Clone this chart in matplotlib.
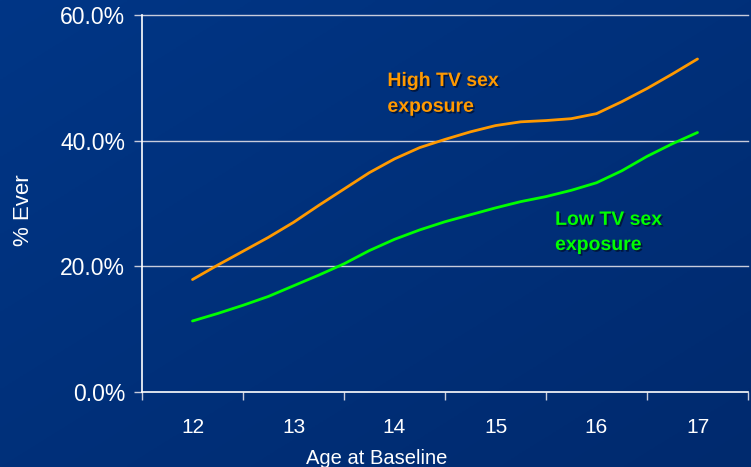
import numpy as np
import matplotlib
matplotlib.use("Agg")
import matplotlib.pyplot as plt
import matplotlib.patheffects as pe
from matplotlib.ticker import FixedLocator, FuncFormatter

plt.rcParams['font.family'] = ['Liberation Sans', 'DejaVu Sans']

# ages every quarter year
ages = [12.0, 12.25, 12.5, 12.75, 13.0, 13.25, 13.5, 13.75, 14.0, 14.25, 14.5,
        14.75, 15.0, 15.25, 15.5, 15.75, 16.0, 16.25, 16.5, 16.75, 17.0]
high_tv = [17.9, 20.2, 22.4, 24.6, 27.0, 29.7, 32.3, 34.9, 37.1, 38.9, 40.2,
           41.4, 42.4, 43.0, 43.2, 43.5, 44.3, 46.2, 48.3, 50.6, 53.0]
low_tv = [11.3, 12.5, 13.8, 15.2, 16.9, 18.6, 20.4, 22.5, 24.3, 25.8, 27.1,
          28.2, 29.3, 30.3, 31.1, 32.1, 33.3, 35.2, 37.5, 39.5, 41.3]
age_labels = [12, 13, 14, 15, 16, 17]
y_ticks = [0, 20, 40, 60]

orange = '#FF9900'
green = '#00FF00'
grid_col = '#C8CCDC'

fig = plt.figure(figsize=(7.51, 4.67), dpi=100)

# background gradient (slightly lighter top-left)
bg = fig.add_axes([0, 0, 1, 1], zorder=-10)
gx, gy = np.meshgrid(np.linspace(0, 1, 200), np.linspace(0, 1, 200))
g = (gx * 0.5 + gy * 0.5)
c1 = np.array([0x00, 0x36, 0x86]) / 255.0
c2 = np.array([0x00, 0x2A, 0x6E]) / 255.0
img = c1[None, None, :] * (1 - g[..., None]) + c2[None, None, :] * g[..., None]
bg.imshow(img, aspect='auto', extent=[0, 1, 0, 1], origin='upper')
bg.axis('off')

ax = fig.add_axes([142 / 751, 75 / 467, 606 / 751, 377 / 467])
ax.patch.set_alpha(0)

ax.plot(ages, high_tv, color=orange, lw=2.0, solid_capstyle='round',
        solid_joinstyle='round', zorder=3)
ax.plot(ages, low_tv, color=green, lw=2.0, solid_capstyle='round',
        solid_joinstyle='round', zorder=3)

ax.set_xlim(11.5, 17.5)
ax.set_ylim(0, 60)

for v in y_ticks[1:]:
    ax.axhline(v, color=grid_col, lw=1.0, zorder=1, clip_on=False)

ax.set_yticks(y_ticks)
ax.yaxis.set_major_formatter(FuncFormatter(lambda v, p: f"{v:.1f}%"))
ax.set_xticks(age_labels)
ax.xaxis.set_minor_locator(FixedLocator([a - 0.5 for a in age_labels] + [17.5]))

ax.tick_params(axis='y', colors=grid_col, labelcolor='white', labelsize=16.5,
               length=6, width=1, direction='out', pad=6)
ax.tick_params(axis='x', which='major', length=0, labelcolor='white',
               labelsize=15, pad=19)
ax.tick_params(axis='x', which='minor', length=6, width=1, color=grid_col,
               direction='out')

for s in ['top', 'right']:
    ax.spines[s].set_visible(False)
for s in ['left', 'bottom']:
    ax.spines[s].set_color('white')
    ax.spines[s].set_linewidth(1.2)

ax.set_xlabel('Age at Baseline', color='white', fontsize=14.5)
ax.xaxis.set_label_coords(0.388, -0.15)
ax.set_ylabel('% Ever', color='white', fontsize=16)
ax.yaxis.set_label_coords(-0.178, 0.483)

shadow = [pe.SimplePatchShadow(offset=(1.2, -1.2), shadow_rgbFace='#001030', alpha=0.8),
          pe.Normal()]
ax.text(13.93, 48.7, 'High TV sex', color=orange, fontsize=14, fontweight='bold',
        va='baseline', ha='left', path_effects=shadow, zorder=4)
ax.text(13.93, 44.6, 'exposure', color=orange, fontsize=14, fontweight='bold',
        va='baseline', ha='left', path_effects=shadow, zorder=4)
ax.text(15.59, 26.6, 'Low TV sex', color=green, fontsize=14, fontweight='bold',
        va='baseline', ha='left', path_effects=shadow, zorder=4)
ax.text(15.59, 22.6, 'exposure', color=green, fontsize=14, fontweight='bold',
        va='baseline', ha='left', path_effects=shadow, zorder=4)

fig.savefig('out.png', dpi=100)
